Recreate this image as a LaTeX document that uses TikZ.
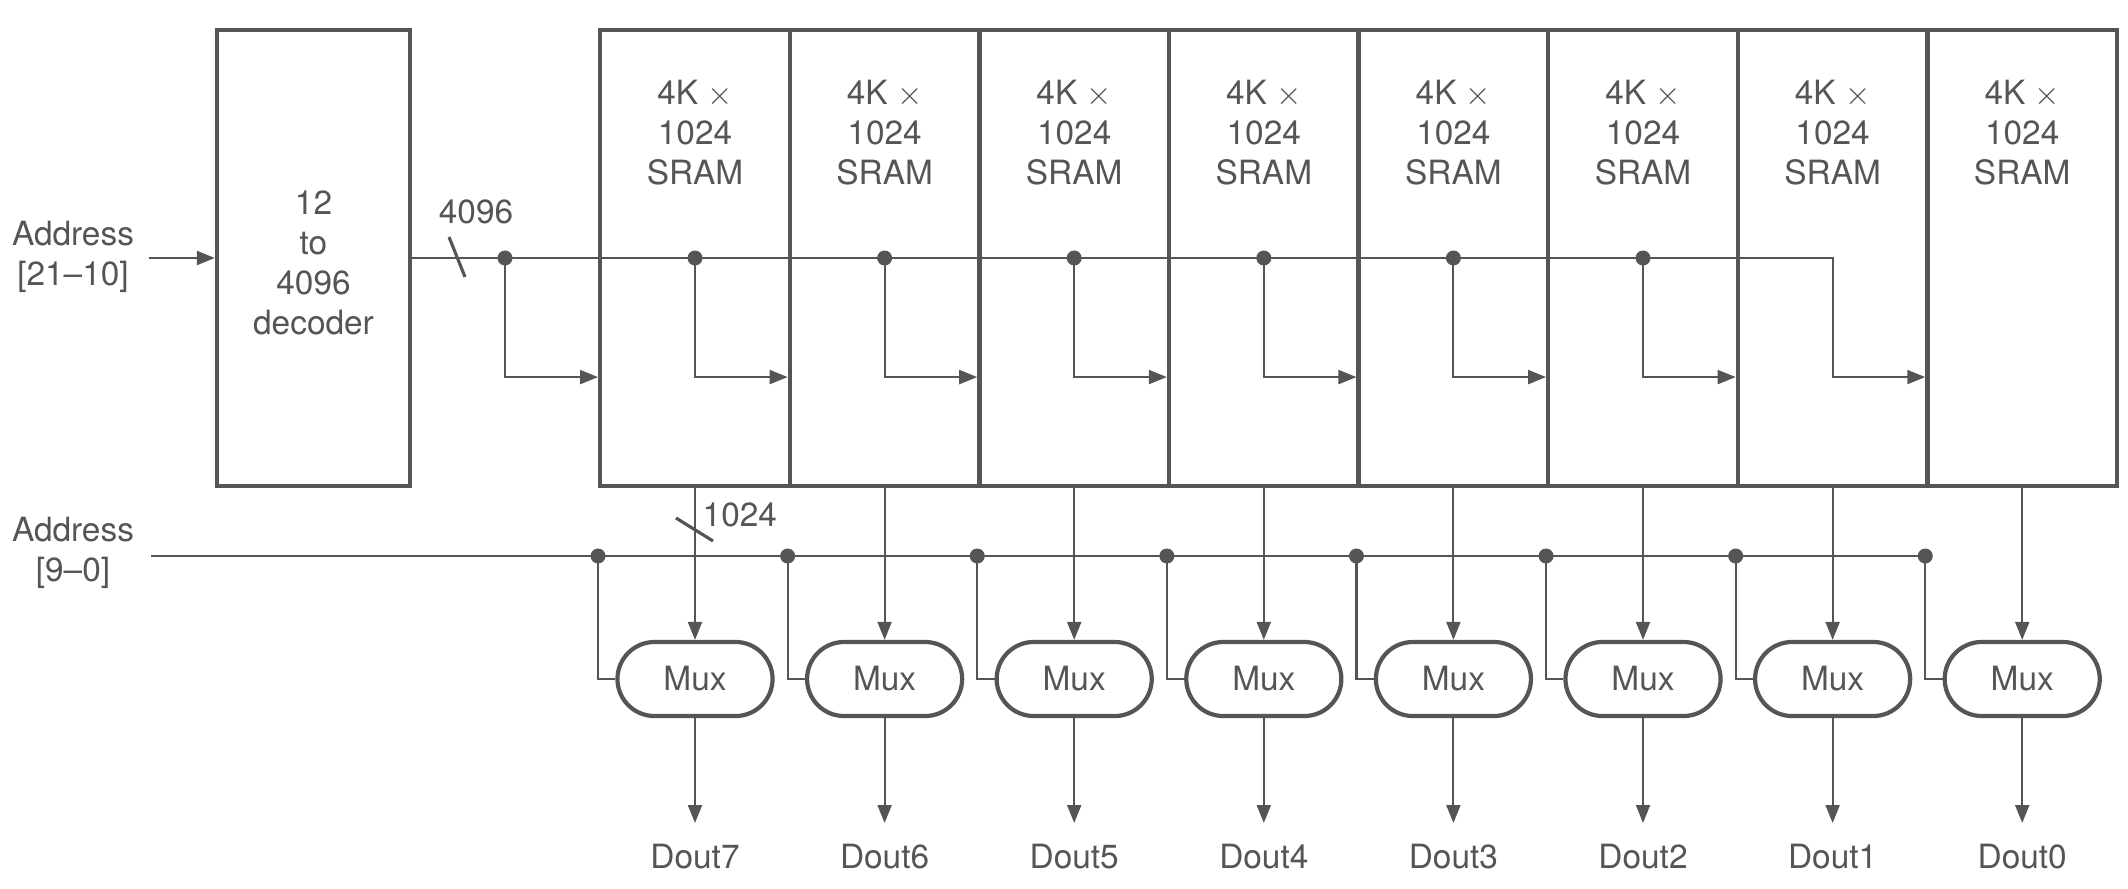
\documentclass[tikz,border=0pt]{standalone}
\usepackage{fontspec}
\setmainfont{TeX Gyre Heros}
\usetikzlibrary{arrows.meta,calc}
\definecolor{ink}{HTML}{555555}
\begin{document}
\begin{tikzpicture}[x=0.01cm,y=-0.01cm,
  every node/.style={text=ink, font=\fontsize{9.5}{11.4}\selectfont},
  wire/.style={draw=ink, line width=0.6pt},
  arr/.style={wire, -{Triangle[length=0.18cm,width=0.14cm]}},
  blk/.style={draw=ink, line width=1.2pt, minimum height=4.56cm, inner sep=0pt},
  muxbox/.style={draw=ink, line width=1.2pt, rounded corners=0.37cm,
                 minimum width=1.55cm, minimum height=0.74cm, inner sep=0pt},
  dot/.style={fill=ink},
  txt/.style={align=center, inner sep=0pt}]
\useasboundingbox (0,0) rectangle (2128,888);

% decoder
\node[blk, minimum width=1.93cm] (dec) at (313.5,258) {};
\node[txt] (dectxt) at (313.5,263) {12\\to\\4096\\decoder};

% address inputs
\node[txt] (a1) at (73,257) {Address\\{[21–10]}};
\node[txt] (a2) at (73,553) {Address\\{[9–0]}};
\coordinate (a1s) at (149,258);
\coordinate (a2s) at (151,556);
\draw[arr] (a1s) -- (dec.west);

% SRAM banks, muxes and outputs
\foreach \i [evaluate=\i as \x using {695+189.6*\i}] in {0,...,7} {
  \pgfmathtruncatemacro\d{7-\i}
  \node[blk, minimum width=1.896cm] (s\i) at (\x,258) {};
  \node[txt] (st\i) at (\x,133) {4K $\times$\\1024\\SRAM};
  \node[muxbox] (m\i) at (\x,679) {Mux};
  \node[txt, anchor=north, inner ysep=0.2cm] (d\i) at (\x,823) {Dout\d};
  \draw[arr] (s\i.south) -- (m\i.north);
  \draw[arr] (m\i.south) -- (d\i.north);
}

% low address bus to the muxes
\draw[wire] (a2s) -- (s7.west |- a2s);
\foreach \i in {0,...,7} {
  \fill[dot] (s\i.west |- a2s) circle (0.075cm);
  \draw[wire] (s\i.west |- a2s) |- (m\i.west);
}

% decoder output bus to the banks
\coordinate (tin) at (505,258);
\coordinate (t6) at (1832.6,258);
\draw[arr] (dec.east) -- (t6) |- ([yshift=-1.19cm]s7.west);
\fill[dot] (tin) circle (0.075cm);
\draw[arr] (tin) |- ([yshift=-1.19cm]s0.west);
\foreach \i [evaluate=\i as \x using {695+189.6*\i}, evaluate=\i as \j using {int(\i+1)}] in {0,...,5} {
  \coordinate (t\i) at (\x,258);
  \fill[dot] (t\i) circle (0.075cm);
  \draw[arr] (t\i) |- ([yshift=-1.19cm]s\j.west);
}

% bus width marks
\draw[wire, line width=0.9pt] (449,237) -- (465,277);
\node (w4096) at (476,212) {4096};
\draw[wire, line width=0.9pt] (676,518) -- (713,541);
\node[anchor=west, inner sep=0pt] (w1024) at (702,515) {1024};
\end{tikzpicture}
\end{document}
